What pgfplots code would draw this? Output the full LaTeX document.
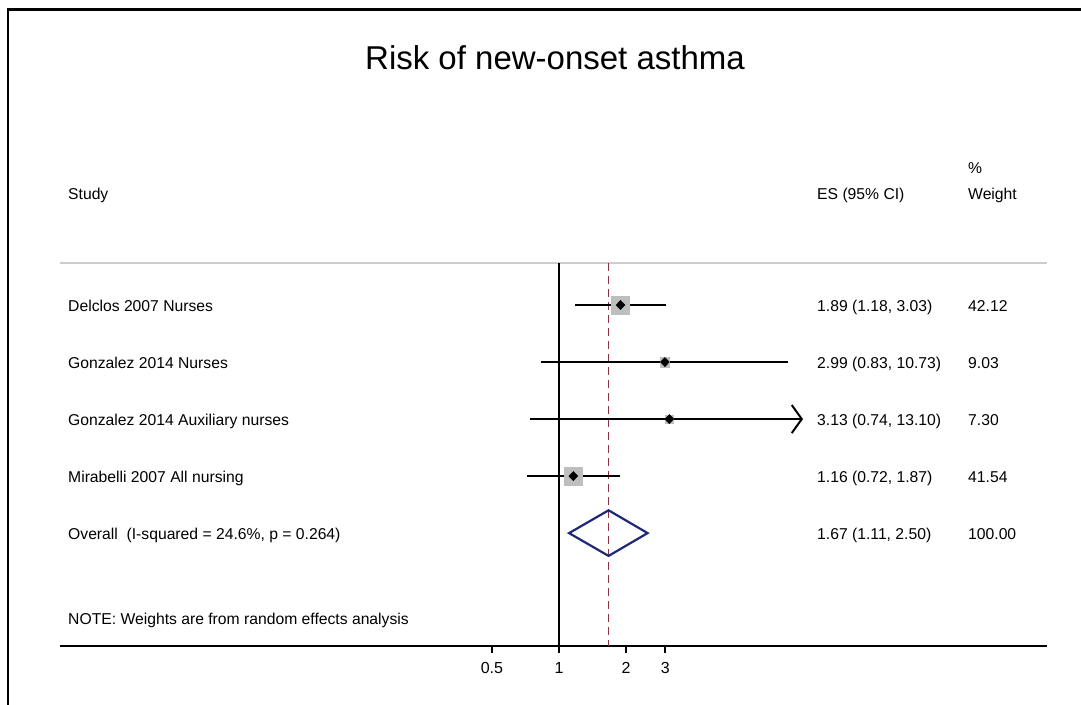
\documentclass[border=0pt]{standalone}
\usepackage{fontspec}
\setmainfont{Liberation Sans}
\usepackage{pgfplots}
\pgfplotsset{compat=1.18}
\usetikzlibrary{arrows.meta}
\definecolor{navyd}{RGB}{30,40,120}
\definecolor{maroonl}{RGB}{140,50,65}
\definecolor{sqgray}{RGB}{190,190,190}
\definecolor{sepgray}{RGB}{205,205,205}
\newcommand{\lf}{\fontsize{15.7}{19}\selectfont}
\begin{document}
\begin{tikzpicture}[x=1pt,y=1pt]
\useasboundingbox (0,0) rectangle (1081,704);
\fill[white] (0,0) rectangle (1081,704);
\draw[line width=3pt] (6.5,694) -- (1085,694);
\draw[line width=2pt] (8,695) -- (8,-5);
\draw[sepgray, line width=2pt] (60,441) -- (1047,441);
\begin{axis}[at={(60pt,58pt)}, anchor=south west, scale only axis,
  width=987pt, height=383pt,
  xmode=log, xmin=0.005743, xmax=155.47, ymin=-6.98, ymax=-0.263,
  axis y line=none, axis x line*=bottom,
  axis line style={black, line width=2pt},
  xtick={0.5,1,2,3}, xticklabels={0.5,1,2,3}, ytick=\empty,
  xminorticks=false,
  tick align=outside, major tick length=7pt,
  tick style={black, line width=2pt},
  xticklabel style={font=\fontsize{16}{18}\selectfont, yshift=-6pt},
  /pgf/number format/assume math mode=true,
  clip=false]
% reference lines
\addplot[black, line width=1.8pt] coordinates {(1,-0.263) (1,-6.98)};
\addplot[maroonl, line width=1.6pt, dash pattern=on 8pt off 5pt] coordinates {(1.67,-0.263) (1.67,-6.98)};
% weight squares
\addplot[only marks, sqgray, mark=square*, mark size=9pt] coordinates {(1.89,-1)};
\addplot[only marks, sqgray, mark=square*, mark size=4.8pt] coordinates {(2.99,-2)};
\addplot[only marks, sqgray, mark=square*, mark size=4.3pt] coordinates {(3.13,-3)};
\addplot[only marks, sqgray, mark=square*, mark size=9pt] coordinates {(1.16,-4)};
% confidence intervals
\addplot[black, line width=2pt] coordinates {(1.18,-1) (3.03,-1)};
\addplot[black, line width=2pt] coordinates {(0.83,-2) (10.73,-2)};
\addplot[black, line width=2pt, -{Straight Barb[length=10pt, width=28pt, line width=2pt]}] coordinates {(0.74,-3) (12.47,-3)};
\addplot[black, line width=2pt] coordinates {(0.72,-4) (1.87,-4)};
% point estimates
\addplot[only marks, mark=diamond*, mark size=4.6pt, mark options={xscale=1.3}, black] coordinates {(1.89,-1) (2.99,-2) (3.13,-3) (1.16,-4)};
% overall
\addplot[navyd, line width=2.2pt, line join=miter] coordinates {(1.11,-5) (1.67,-4.6) (2.50,-5) (1.67,-5.4) (1.11,-5) (1.67,-4.6)};
\end{axis}
\node[anchor=base, font=\fontsize{33}{40}\selectfont, inner sep=0] at (555,634) {Risk of new-onset asthma};
\begin{scope}[every node/.style={anchor=base west, inner sep=0, font=\lf}]
\node at (968,530) {\%};
\node at (68,504) {Study};
\node at (817,504) {ES (95\% CI)};
\node at (968,504) {Weight};
\node at (68,392) {Delclos 2007 Nurses};
\node at (68,335) {Gonzalez 2014 Nurses};
\node at (68,278) {Gonzalez 2014 Auxiliary nurses};
\node at (68,221) {Mirabelli 2007 All nursing};
\node at (68,164) {Overall\ \ (I-squared = 24.6\%, p = 0.264)};
\node at (68,79) {NOTE: Weights are from random effects analysis};
\node at (817,392) {1.89 (1.18, 3.03)};
\node at (817,335) {2.99 (0.83, 10.73)};
\node at (817,278) {3.13 (0.74, 13.10)};
\node at (817,221) {1.16 (0.72, 1.87)};
\node at (817,164) {1.67 (1.11, 2.50)};
\node at (968,392) {42.12};
\node at (968,335) {9.03};
\node at (968,278) {7.30};
\node at (968,221) {41.54};
\node at (968,164) {100.00};
\end{scope}
\end{tikzpicture}
\end{document}
